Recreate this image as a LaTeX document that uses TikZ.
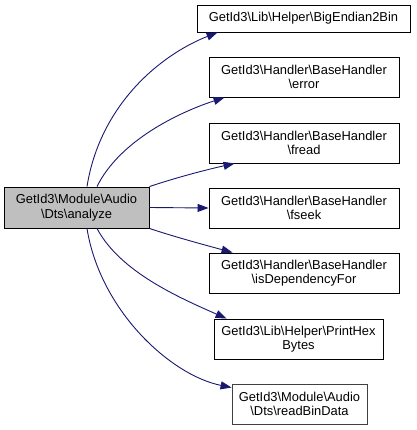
\documentclass[tikz,border=0pt]{standalone}
\usepackage{fontspec}
\setmainfont{Liberation Sans}
\usetikzlibrary{arrows.meta}
\newcommand{\bsl}{\textbackslash}
\definecolor{edgeblue}{HTML}{191970}
\definecolor{mainfill}{HTML}{BFBFBF}

\begin{document}
\begin{tikzpicture}
  [x=1pt, y=-1pt,
   every node/.style={draw=black, line width=0.9pt, align=center, inner sep=2pt,
     minimum height=40pt, font=\fontsize{12.9}{14.5}\selectfont},
   callee/.style={minimum width=190pt},
   caller/.style={fill=mainfill, minimum width=145pt, minimum height=41pt},
   call/.style={draw=edgeblue, line width=0.9pt,
     -{Triangle[length=11pt, width=8pt]}}]

  \useasboundingbox (0,0) rectangle (416,430);

  \node[caller] (analyze) at (76.5,207.5) {GetId3\bsl{}Module\bsl{}Audio\\\bsl{}Dts\bsl{}analyze};

  \node[minimum width=213pt, minimum height=27pt] (bigendian) at (303.5,18.5) {GetId3\bsl{}Lib\bsl{}Helper\bsl{}BigEndian2Bin};
  \node[callee] (error) at (304,77) {GetId3\bsl{}Handler\bsl{}BaseHandler\\\bsl{}error};
  \node[callee] (fread) at (304,143) {GetId3\bsl{}Handler\bsl{}BaseHandler\\\bsl{}fread};
  \node[callee] (fseek) at (304,208) {GetId3\bsl{}Handler\bsl{}BaseHandler\\\bsl{}fseek};
  \node[callee] (isdep) at (304,273) {GetId3\bsl{}Handler\bsl{}BaseHandler\\\bsl{}isDependencyFor};
  \node[minimum width=169pt] (printhex) at (298.5,339) {GetId3\bsl{}Lib\bsl{}Helper\bsl{}PrintHex\\Bytes};
  \node[draw=black!75, minimum width=135pt] (readbin) at (299.5,404) {GetId3\bsl{}Module\bsl{}Audio\\\bsl{}Dts\bsl{}readBinData};

  \draw[call] ([xshift=10.5pt]analyze.north) .. controls (100,105) and (160,55) .. ([xshift=21pt]bigendian.south west);
  \draw[call] ([xshift=20.5pt]analyze.north) .. controls (120,140) and (180,112) .. ([xshift=16pt]error.south west);
  \draw[call] (analyze.north east) .. controls (175,178) and (205,170) .. ([xshift=26pt]fread.south west);
  \draw[call] (analyze.east) -- (fseek.west);
  \draw[call] (analyze.south east) .. controls (175,237) and (205,245) .. ([xshift=24pt]isdep.north west);
  \draw[call] ([xshift=20.5pt]analyze.south) .. controls (120,272) and (180,298) .. ([xshift=13pt]printhex.north west);
  \draw[call] ([xshift=10.5pt]analyze.south) .. controls (100,310) and (170,375) .. ([yshift=-4pt]readbin.north west);
\end{tikzpicture}
\end{document}
